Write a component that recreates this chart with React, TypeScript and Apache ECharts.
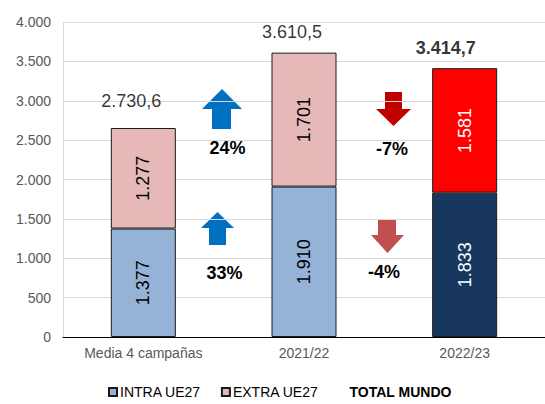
import React, { useEffect, useRef } from "react";
import * as echarts from "echarts";

const categories = ["Media 4 campañas", "2021/22", "2022/23"];
const intraUE27 = [1377, 1910, 1833];
const extraUE27 = [1277, 1701, 1581];
const totalMundo = [2730.6, 3610.5, 3414.7];
const changeLabels = ["24%", "33%", "-7%", "-4%"];

const FONT = "Liberation Sans, Arial, sans-serif";

const fmtInt = (v: number) =>
  String(Math.round(v)).replace(/\B(?=(\d{3})+(?!\d))/g, ".");
const fmtDec = (v: number) => {
  const [i, d] = v.toFixed(1).split(".");
  return fmtInt(Number(i)) + "," + d;
};

export default function App() {
  const ref = useRef<HTMLDivElement>(null);
  useEffect(() => {
    if (!ref.current) return;
    const chart = echarts.init(ref.current, null, { renderer: "svg" });
    const segLabel = {
      show: true,
      position: "inside",
      rotate: 90,
      fontSize: 18,
      fontFamily: FONT,
      color: "#000",
      formatter: (p: any) => fmtInt(p.value),
    };
    const totalOffsets = [[-12, 0], [-12, 0], [-19, 0]];
    chart.setOption({
      animation: false,
      backgroundColor: "#fff",
      grid: { left: 63, right: -3, top: 22, bottom: 67 },
      legend: {
        left: 103,
        top: 380,
        itemWidth: 8,
        itemHeight: 8,
        itemGap: 20,
        textStyle: { fontSize: 14, fontFamily: FONT, color: "#000", padding: [0, 0, 0, -2] },
        data: [
          { name: "INTRA UE27", icon: "rect" },
          { name: "EXTRA UE27", icon: "rect" },
          { name: "TOTAL MUNDO", icon: "none", textStyle: { fontWeight: "bold" } },
        ],
      },
      xAxis: {
        type: "category",
        data: categories,
        axisTick: { show: false },
        axisLine: { lineStyle: { color: "#000", width: 1 } },
        axisLabel: { fontSize: 14, fontFamily: FONT, color: "#595959", margin: 9 },
      },
      yAxis: {
        type: "value",
        min: 0,
        max: 4000,
        interval: 500,
        axisLine: { show: true, lineStyle: { color: "#D9D9D9" } },
        splitLine: { lineStyle: { color: "#D9D9D9", width: 1 } },
        axisLabel: {
          fontSize: 14,
          fontFamily: FONT,
          color: "#595959",
          margin: 12,
          formatter: (v: number) => fmtInt(v),
        },
      },
      series: [
        {
          name: "INTRA UE27",
          type: "bar",
          stack: "t",
          barWidth: 65,
          itemStyle: { color: "#95B3D7", borderColor: "#1a1a1a", borderWidth: 1 },
          label: segLabel,
          data: intraUE27.map((v, i) =>
            i === 2
              ? { value: v, itemStyle: { color: "#17375E" }, label: { color: "#fff" } }
              : { value: v }
          ),
        },
        {
          name: "EXTRA UE27",
          type: "bar",
          stack: "t",
          barWidth: 65,
          itemStyle: { color: "#E6B9B8", borderColor: "#1a1a1a", borderWidth: 1 },
          label: segLabel,
          data: extraUE27.map((v, i) =>
            i === 2
              ? { value: v, itemStyle: { color: "#FF0000" }, label: { color: "#fff" } }
              : { value: v }
          ),
        },
        {
          name: "TOTAL MUNDO",
          type: "scatter",
          symbol: "circle",
          symbolSize: 1,
          itemStyle: { color: "rgba(0,0,0,0)" },
          z: 5,
          label: {
            show: true,
            position: "top",
            distance: 11,
            fontSize: 18,
            fontFamily: FONT,
            color: "#000",
            formatter: (p: any) => fmtDec(p.value),
          },
          data: totalMundo.map((v, i) => ({
            value: v,
            label: { offset: totalOffsets[i], fontWeight: i === 2 ? "bold" : "normal" },
          })),
        },
      ],
      graphic: [
        {
          type: "polygon",
          shape: { points: [[202, 109], [222, 89], [242, 109], [231, 109], [231, 129], [212, 129], [212, 109]] },
          style: { fill: "#0070C0" },
        },
        {
          type: "polygon",
          shape: { points: [[201, 228], [217.5, 212], [234, 228], [226, 228], [226, 245], [209, 245], [209, 228]] },
          style: { fill: "#0070C0" },
        },
        {
          type: "polygon",
          shape: { points: [[385, 92], [402, 92], [402, 109], [411, 109], [393.5, 126], [376, 109], [385, 109]] },
          style: { fill: "#C00000" },
        },
        {
          type: "polygon",
          shape: { points: [[378, 219], [396, 219], [396, 235], [404, 235], [387.5, 253], [371, 235], [378, 235]] },
          style: { fill: "#C0504D" },
        },
        ...[
          [227.5, 148],
          [224.5, 273],
          [392, 149],
          [384, 272],
        ].map(([x, y], i) => ({
          type: "text",
          x,
          y,
          style: {
            text: changeLabels[i],
            align: "center",
            verticalAlign: "middle",
            fontSize: 18,
            fontWeight: "bold",
            fontFamily: FONT,
            fill: "#000",
          },
        })),
      ],
    });
    return () => chart.dispose();
  }, []);
  return (
    <div
      ref={ref}
      style={{ position: "fixed", left: 0, top: 0, width: 545, height: 404, background: "#fff" }}
    />
  );
}
